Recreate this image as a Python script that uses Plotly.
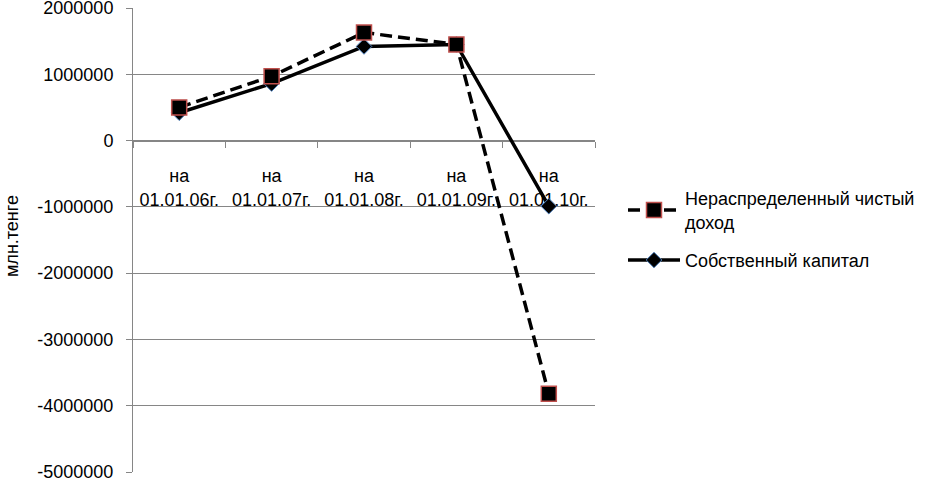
import plotly.graph_objects as go

categories = ["на<br>01.01.06г.", "на<br>01.01.07г.", "на<br>01.01.08г.", "на<br>01.01.09г.", "на<br>01.01.10г."]
retained_income = [500000, 970000, 1630000, 1450000, -3820000]
equity = [420000, 860000, 1420000, 1450000, -990000]
y_tick_vals = [2000000, 1000000, 0, -1000000, -2000000, -3000000, -4000000, -5000000]
y_tick_text = ["2000000", "1000000", "0", "-1000000", "-2000000", "-3000000", "-4000000", "-5000000"]
y_title = "млн.тенге"

FONT = "Liberation Sans"
GRID = "#868686"

fig = go.Figure()
fig.add_trace(go.Scatter(
    x=categories, y=equity, name="Собственный капитал",
    mode="lines+markers", legendgroup="b", legendrank=2,
    line=dict(color="black", width=3.5),
    marker=dict(symbol="diamond", size=12, color="black", line=dict(color="#4F81BD", width=1)),
))
fig.add_trace(go.Scatter(
    x=categories, y=retained_income, name="Нераспределенный чистый<br>доход",
    mode="lines+markers", legendgroup="a", legendrank=1,
    line=dict(color="black", width=3.5, dash="12px,6px"),
    marker=dict(symbol="square", size=15, color="black", line=dict(color="#C0504D", width=1.5)),
))

fig.add_annotation(
    text=y_title, xref="paper", yref="paper",
    x=(12 - 133) / 462, y=(472 - 236) / 464,
    xanchor="center", yanchor="middle", textangle=-90, showarrow=False,
    font=dict(size=18, color="black", family=FONT),
)

fig.update_layout(
    width=929, height=479,
    margin=dict(l=133, r=334, t=8, b=7, autoexpand=False),
    paper_bgcolor="white", plot_bgcolor="white",
    font=dict(family=FONT, size=18, color="black"),
    legend=dict(
        xref="container", yref="container",
        x=623 / 929, y=1 - 180 / 479, xanchor="left", yanchor="top",
        traceorder="grouped", itemwidth=52, font=dict(size=18),
        tracegroupgap=12,
    ),
    xaxis=dict(
        type="category", range=[-0.5, 4.5],
        anchor="free", position=5 / 7,
        showline=True, linecolor=GRID, linewidth=1,
        ticks="outside", ticklen=6, tickcolor=GRID, tickson="boundaries",
        showgrid=False, layer="below traces", tickangle=0, automargin=False,
        ticklabelstandoff=19,
        tickfont=dict(size=18),
    ),
    yaxis=dict(
        range=[-5000000, 2000000], domain=[0, 1],
        tickvals=y_tick_vals, ticktext=y_tick_text,
        showline=True, linecolor=GRID, linewidth=1,
        ticks="outside", ticklen=6, tickcolor=GRID,
        showgrid=True, gridcolor=GRID, gridwidth=1, zeroline=False,
        ticklabeloverflow="allow", automargin=False,
        ticklabelstandoff=9,
        tickfont=dict(size=18),
    ),
)

fig.write_html("out.html", config={"displayModeBar": False},
               post_script="document.body.style.margin='0';")
